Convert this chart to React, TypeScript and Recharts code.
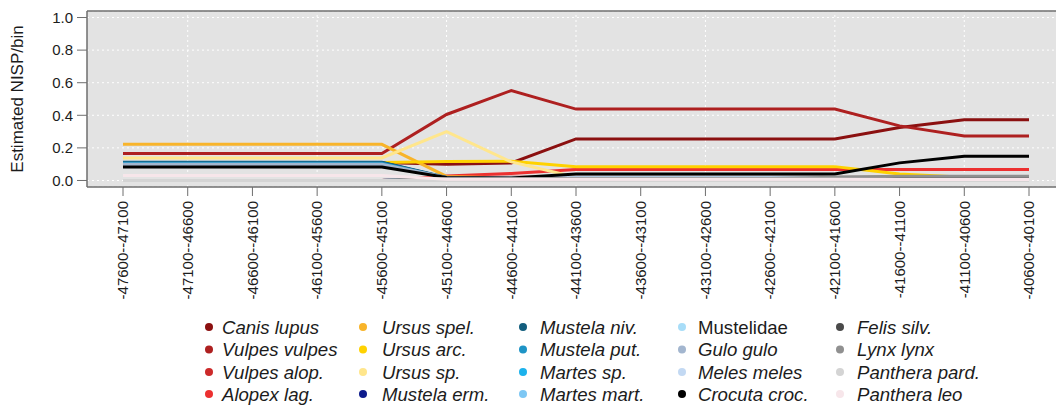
import React from "react";
import { LineChart, Line, XAxis, YAxis, CartesianGrid, ReferenceLine } from "recharts";

const categories = [
  "-47600--47100", "-47100--46600", "-46600--46100", "-46100--45600", "-45600--45100",
  "-45100--44600", "-44600--44100", "-44100--43600", "-43600--43100", "-43100--42600",
  "-42600--42100", "-42100--41600", "-41600--41100", "-41100--40600", "-40600--40100",
];

const yTicks = [0, 0.2, 0.4, 0.6, 0.8, 1.0];

const canisLupus = [0.11, 0.11, 0.11, 0.11, 0.11, 0.1, 0.108, 0.255, 0.255, 0.255, 0.255, 0.255, 0.325, 0.372, 0.372];
const vulpesVulpes = [0.165, 0.165, 0.165, 0.165, 0.165, 0.405, 0.552, 0.438, 0.438, 0.438, 0.438, 0.438, 0.335, 0.273, 0.273];
const vulpesAlop = [0, 0, 0, 0, 0, 0.02, 0.02, 0.02, 0.02, 0.02, 0.02, 0.02, 0.02, 0.02, 0.02];
const alopexLag = [0, 0, 0, 0, 0, 0.028, 0.043, 0.067, 0.067, 0.067, 0.067, 0.067, 0.067, 0.067, 0.067];
const ursusSpel = [0.222, 0.222, 0.222, 0.222, 0.222, 0.025, 0.015, 0.015, 0.015, 0.015, 0.015, 0.015, 0.015, 0.015, 0.015];
const ursusArc = [0.11, 0.11, 0.11, 0.11, 0.11, 0.117, 0.118, 0.085, 0.085, 0.085, 0.085, 0.085, 0.04, 0.02, 0.02];
const ursusSp = [0.138, 0.138, 0.138, 0.138, 0.138, 0.3, 0.114, 0.02, 0.02, 0.02, 0.02, 0.02, 0.02, 0.02, 0.02];
const mustelaErm = [0.11, 0.11, 0.11, 0.11, 0.11, 0.015, 0.015, 0.015, 0.015, 0.015, 0.015, 0.015, 0.015, 0.015, 0.015];
const mustelaNiv = [0.112, 0.112, 0.112, 0.112, 0.112, 0.018, 0.018, 0.018, 0.018, 0.018, 0.018, 0.018, 0.018, 0.018, 0.018];
const mustelaPut = [0.105, 0.105, 0.105, 0.105, 0.105, 0.016, 0.016, 0.016, 0.016, 0.016, 0.016, 0.016, 0.016, 0.016, 0.016];
const martesSp = [0, 0, 0, 0, 0, 0.015, 0.015, 0.015, 0.015, 0.015, 0.015, 0.015, 0.015, 0.015, 0.015];
const martesMart = [0, 0, 0, 0, 0, 0.015, 0.015, 0.015, 0.015, 0.015, 0.015, 0.015, 0.015, 0.015, 0.015];
const mustelidae = [0, 0, 0, 0, 0, 0.015, 0.015, 0.015, 0.015, 0.015, 0.015, 0.015, 0.015, 0.015, 0.015];
const guloGulo = [0.1, 0.1, 0.1, 0.1, 0.1, 0.018, 0.018, 0.022, 0.022, 0.022, 0.022, 0.022, 0.02, 0.02, 0.02];
const melesMeles = [0, 0, 0, 0, 0, 0.015, 0.015, 0.015, 0.015, 0.015, 0.015, 0.015, 0.015, 0.015, 0.015];
const crocutaCroc = [0.083, 0.083, 0.083, 0.083, 0.083, 0.018, 0.015, 0.04, 0.04, 0.04, 0.04, 0.04, 0.108, 0.149, 0.149];
const felisSilv = [0, 0, 0, 0, 0, 0.012, 0.012, 0.012, 0.012, 0.012, 0.012, 0.012, 0.012, 0.012, 0.012];
const lynxLynx = [0, 0, 0, 0, 0, 0.01, 0.01, 0.012, 0.012, 0.012, 0.012, 0.02, 0.026, 0.026, 0.026];
const pantheraPard = [0, 0, 0, 0, 0, 0, 0, 0, 0, 0, 0, 0, 0, 0, 0];
const pantheraLeo = [0.03, 0.03, 0.03, 0.03, 0.03, 0.008, 0.008, 0.008, 0.008, 0.008, 0.008, 0.008, 0.006, 0.006, 0.006];

const seriesNames = [
  "Canis lupus", "Vulpes vulpes", "Vulpes alop.", "Alopex lag.",
  "Ursus spel.", "Ursus arc.", "Ursus sp.", "Mustela erm.",
  "Mustela niv.", "Mustela put.", "Martes sp.", "Martes mart.",
  "Mustelidae", "Gulo gulo", "Meles meles", "Crocuta croc.",
  "Felis silv.", "Lynx lynx", "Panthera pard.", "Panthera leo",
];

const seriesValues = [
  canisLupus, vulpesVulpes, vulpesAlop, alopexLag,
  ursusSpel, ursusArc, ursusSp, mustelaErm,
  mustelaNiv, mustelaPut, martesSp, martesMart,
  mustelidae, guloGulo, melesMeles, crocutaCroc,
  felisSilv, lynxLynx, pantheraPard, pantheraLeo,
];

const seriesColors = [
  "#8B1010", "#AE2020", "#CC2A2A", "#EC3030",
  "#F8B42A", "#FFD200", "#FFE68C", "#0D1B8C",
  "#135E7E", "#1E94C6", "#1CB2EC", "#7DC7F4",
  "#A8DDF8", "#A3B6CF", "#C3D9F3", "#000000",
  "#4A4A4A", "#909090", "#D4D4D4", "#F7E6EA",
];

const italicSeries = seriesNames.map((n) => n !== "Mustelidae");

const data = categories.map((cat, i) => {
  const row: Record<string, string | number> = { cat };
  seriesNames.forEach((name, s) => {
    row[name] = seriesValues[s][i];
  });
  return row;
});

const FONT = "'Liberation Sans', Arial, Helvetica, sans-serif";
const AXIS = "#6e6e6e";
const TEXT = "#1c1c1c";

const XTick = (props: any) => {
  const { x, y, payload } = props;
  return (
    <g transform={`translate(${x},${y})`}>
      <text
        x={0}
        y={0}
        dy="0.35em"
        transform="rotate(-90)"
        textAnchor="end"
        fontSize={15}
        fontFamily={FONT}
        fill={TEXT}
      >
        {payload.value}
      </text>
    </g>
  );
};

const YLabel = () => (
  <text
    x={17}
    y={99}
    transform="rotate(-90,17,99)"
    textAnchor="middle"
    dominantBaseline="central"
    fontSize={17}
    fontFamily={FONT}
    fill={TEXT}
  >
    Estimated NISP/bin
  </text>
);

const LegendBlock = () => {
  const colDot = [209, 363, 523, 682, 840];
  const colText = [222, 382, 540, 698, 857];
  const rowY = [327, 349.5, 372, 394];
  return (
    <svg width={1056} height={96} style={{ position: "absolute", left: 0, top: 0, overflow: "visible" }}>
      {seriesNames.map((name, i) => {
        const col = Math.floor(i / 4);
        const row = i % 4;
        return (
          <g key={name}>
            <circle cx={colDot[col]} cy={rowY[row]} r={4} fill={seriesColors[i]} />
            <text
              x={colText[col]}
              y={rowY[row]}
              dominantBaseline="central"
              fontSize={18.6}
              fontStyle={italicSeries[i] ? "italic" : "normal"}
              fontFamily={FONT}
              fill={TEXT}
            >
              {name}
            </text>
          </g>
        );
      })}
    </svg>
  );
};

export default function App() {
  return (
    <div style={{ position: "relative", width: 1056, height: 406, overflow: "hidden" }}>
      <style>{"body{margin:0;overflow:hidden}"}</style>
      <LineChart
        width={1056}
        height={310}
        data={data}
        margin={{ top: 11, right: 0, bottom: 0, left: 0 }}
      >
        <CartesianGrid
          fill="#E3E3E3"
          stroke="#ffffff"
          strokeDasharray="2 3"
          vertical={false}
          horizontal={true}
        />
        {categories.map((c, i) =>
          i % 2 === 1 ? (
            <ReferenceLine key={c} x={c} stroke="#ffffff" strokeDasharray="2 3" strokeWidth={1} />
          ) : null
        )}
        <ReferenceLine y={1.04} stroke={AXIS} strokeWidth={1.5} />
        <XAxis
          dataKey="cat"
          type="category"
          interval={0}
          height={123}
          padding={{ left: 36, right: 27 }}
          axisLine={{ stroke: AXIS, strokeWidth: 1.5 }}
          tickLine={{ stroke: AXIS, strokeWidth: 1 }}
          tickSize={9}
          tickMargin={5}
          tick={<XTick />}
        />
        <YAxis
          type="number"
          domain={[-0.04, 1.04]}
          ticks={yTicks}
          allowDataOverflow={true}
          width={87}
          axisLine={{ stroke: AXIS, strokeWidth: 1.5 }}
          tickLine={{ stroke: AXIS, strokeWidth: 1 }}
          tickSize={10}
          tickMargin={4}
          tickFormatter={(v: number) => v.toFixed(1)}
          tick={{ fontSize: 15, fontFamily: FONT, fill: TEXT }}
          label={<YLabel />}
        />
        {seriesNames.map((name, i) => (
          <Line
            key={name}
            type="linear"
            dataKey={name}
            name={name}
            stroke={seriesColors[i]}
            strokeWidth={3}
            dot={false}
            activeDot={false}
            isAnimationActive={false}
          />
        ))}
      </LineChart>
      <LegendBlock />
    </div>
  );
}
